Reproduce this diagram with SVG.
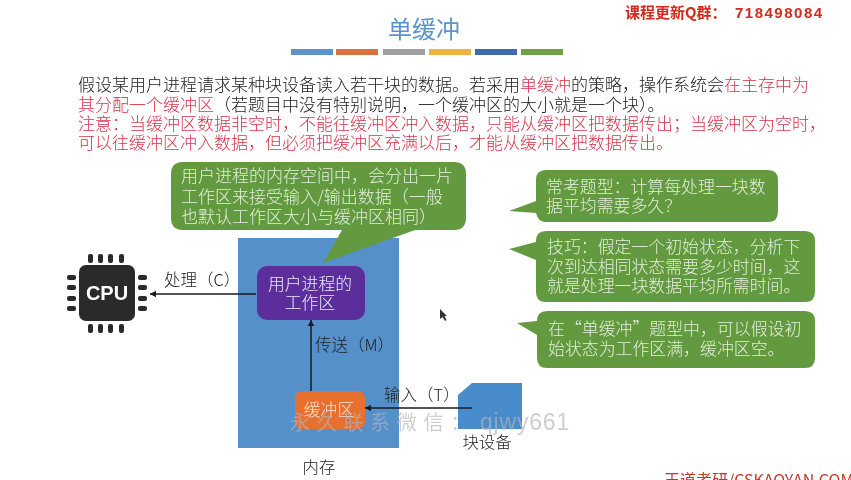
<svg xmlns="http://www.w3.org/2000/svg" width="851" height="480" viewBox="0 0 851 480">
<style>
text{font-family:"Noto Sans CJK SC","Liberation Sans",sans-serif;font-weight:300}
.b{font-size:17px;fill:#222}
.r{fill:#d8344a}
.n{font-size:17px;fill:#d8344a}
.g{fill:#639a41}
.w{fill:#e4efd9;font-size:16.9px}
.w1{fill:#e4efd9;font-size:17px}
.l{font-size:16.5px;fill:#222}
.l2{font-size:16.4px;fill:#222;text-anchor:middle}
.w2{fill:#e8eef8;font-size:16.8px;text-anchor:middle}
.c{stroke:#1a1a1a;stroke-width:1.5;fill:none;marker-end:url(#a)}
.p{fill:#2b2b2b}
</style>
<defs>
<marker id="a" markerUnits="userSpaceOnUse" markerWidth="8" markerHeight="8" refX="6" refY="4" orient="auto"><path d="M0 0.8L6 4L0 7.2z" fill="#1a1a1a"/></marker>
<filter id="soft" x="0" y="0" width="100%" height="100%"><feGaussianBlur stdDeviation="0.35"/></filter>
</defs>
<rect width="851" height="480" fill="#fff"/>
<g filter="url(#soft)">
<g id="title">
<text x="424" y="38" font-size="24" fill="#5b93c9" text-anchor="middle" style="font-weight:400">单缓冲</text>
<rect x="291" y="49" width="42" height="6" fill="#5b93c9"/>
<rect x="336" y="49" width="42" height="6" fill="#d9703d"/>
<rect x="383" y="49" width="42" height="6" fill="#a0a0a0"/>
<rect x="429" y="49" width="42" height="6" fill="#eeb23c"/>
<rect x="475" y="49" width="42" height="6" fill="#3f69b0"/>
<rect x="521" y="49" width="42" height="6" fill="#6fa047"/>
</g>
<g id="qq"><text x="625" y="18" font-size="15" fill="#d42a1e" style="font-weight:700">课程更新Q群&#xFF1A;<tspan x="735" style="font-family:'Liberation Sans',sans-serif;font-weight:700;letter-spacing:1.5px">718498084</tspan></text></g>
<g id="intro">
<text class="b" x="78" y="91">假设某用户进程请求某种块设备读入若干块的数据。若采用<tspan class="r">单缓冲</tspan>的策略&#xFF0C;操作系统会<tspan class="r">在主存中为</tspan></text>
<text class="b" x="78" y="111"><tspan class="r">其分配一个缓冲区</tspan>&#xFF08;若题目中没有特别说明&#xFF0C;一个缓冲区的大小就是一个块&#xFF09;。</text>
<text class="n" x="78" y="130">注意&#xFF1A;当缓冲区数据非空时&#xFF0C;不能往缓冲区冲入数据&#xFF0C;只能从缓冲区把数据传出&#xFF1B;当缓冲区为空时&#xFF0C;</text>
<text class="n" x="78" y="149">可以往缓冲区冲入数据&#xFF0C;但必须把缓冲区充满以后&#xFF0C;才能从缓冲区把数据传出。</text>
</g>
<g id="memory">
<rect x="238" y="238" width="161" height="210" fill="#5490cb"/>
<text class="l2" x="319" y="473">内存</text>
</g>
<g id="callout-workarea">
<path class="g" d="M183 162H454Q466 162 466 174V218Q466 230 454 230H415L323 263L342 230H183Q171 230 171 218V174Q171 162 183 162Z"/>
<text class="w1" x="181" y="182">用户进程的内存空间中&#xFF0C;会分出一片</text>
<text class="w1" x="181" y="203">工作区来接受输入/输出数据&#xFF08;一般</text>
<text class="w1" x="181" y="223">也默认工作区大小与缓冲区相同&#xFF09;</text>
</g>
<g id="workarea">
<rect x="257" y="266" width="108" height="54" rx="10" fill="#5b2e9c"/>
<text class="w2" x="310" y="290">用户进程的</text>
<text class="w2" x="310" y="309">工作区</text>
</g>
<g id="buffer">
<rect x="295" y="391" width="70" height="38" rx="7" fill="#e8702f"/>
<text class="w2" x="329" y="416" style="fill:#fbe3d4">缓冲区</text>
</g>
<g id="device">
<path d="M458 395L472 383H522V429H458Z" fill="#4a8ccc"/>
<text class="l2" x="487" y="448">块设备</text>
</g>
<g id="cpu">
<rect x="79" y="265" width="56" height="56" rx="7" fill="#2b2b2b"/>
<text x="107" y="300" font-size="20" fill="#fff" text-anchor="middle" style="font-weight:700;font-family:'Liberation Sans',sans-serif">CPU</text>
<g class="p">
<rect x="88" y="254" width="5" height="9" rx="2"/><rect x="98" y="254" width="5" height="9" rx="2"/><rect x="108" y="254" width="5" height="9" rx="2"/><rect x="119" y="254" width="5" height="9" rx="2"/>
<rect x="88" y="324" width="5" height="9" rx="2"/><rect x="98" y="324" width="5" height="9" rx="2"/><rect x="108" y="324" width="5" height="9" rx="2"/><rect x="119" y="324" width="5" height="9" rx="2"/>
<rect x="67" y="275" width="9" height="5" rx="2"/><rect x="67" y="285" width="9" height="5" rx="2"/><rect x="67" y="296" width="9" height="5" rx="2"/><rect x="67" y="306" width="9" height="5" rx="2"/>
<rect x="138" y="275" width="9" height="5" rx="2"/><rect x="138" y="285" width="9" height="5" rx="2"/><rect x="138" y="296" width="9" height="5" rx="2"/><rect x="138" y="306" width="9" height="5" rx="2"/>
</g>
</g>
<g id="callout-question">
<path class="g" d="M546 170H768Q778 170 778 180V212Q778 222 768 222H546Q538 222 536 213L509 211L536 201V180Q536 170 546 170Z"/>
<text class="w" x="546" y="193">常考题型&#xFF1A;计算每处理一块数</text>
<text class="w" x="546" y="212">据平均需要多久&#xFF1F;</text>
</g>
<g id="callout-tip">
<path class="g" d="M546 231H805Q815 231 815 241V292Q815 302 805 302H546Q536 302 536 292V260L509 249L536 242V241Q536 231 546 231Z"/>
<text class="w" x="547" y="253">技巧&#xFF1A;假定一个初始状态&#xFF0C;分析下</text>
<text class="w" x="547" y="273">次到达相同状态需要多少时间&#xFF0C;这</text>
<text class="w" x="547" y="292">就是处理一块数据平均所需时间。</text>
</g>
<g id="callout-assume">
<path class="g" d="M547 311H805Q815 311 815 321V358Q815 368 805 368H547Q537 368 537 358V335L517 323L537 321Q537 311 547 311Z"/>
<text class="w" x="548" y="335">在“单缓冲”题型中&#xFF0C;可以假设初</text>
<text class="w" x="548" y="355">始状态为工作区满&#xFF0C;缓冲区空。</text>
</g>
<g id="connectors">
<path class="c" d="M256 294H150"/>
<path class="c" d="M311 391V320"/>
<path class="c" d="M472 408H365"/>
<text class="l" x="164" y="286">处理&#xFF08;C&#xFF09;</text>
<text class="l" x="315" y="351">传送&#xFF08;M&#xFF09;</text>
<text class="l" x="384" y="401">输入&#xFF08;T&#xFF09;</text>
</g>
<g id="overlay">
<path d="M440 309L440 319L442.5 317L445 321L446.5 320L444.5 316L447 316Z" fill="#333"/>
<text x="290" y="430" font-size="20" fill="#b4b4b4" fill-opacity="0.65" style="font-weight:400;letter-spacing:6.7px">永久联系微信&#xFF1A;</text>
<text x="480" y="430" font-size="23" fill="#b4b4b4" fill-opacity="0.65" style="font-weight:400;font-family:'Liberation Sans',sans-serif;letter-spacing:0.8px">qjwy661</text>
<text x="664" y="486" font-size="16" fill="#c0392b" style="font-weight:400">王道考研/CSKAOYAN.COM</text>
</g>
</g>
</svg>
